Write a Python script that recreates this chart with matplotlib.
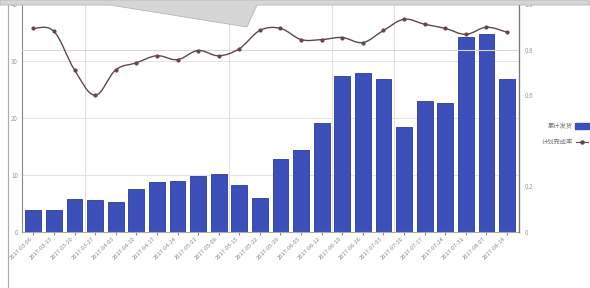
import matplotlib
matplotlib.use('Agg')
import matplotlib.pyplot as plt
from matplotlib.path import Path
from matplotlib.patches import PathPatch, Polygon
import numpy as np

plt.rcParams['font.family'] = ['Noto Sans CJK SC', 'DejaVu Sans']

# data
dates = ['2017-03-06', '2017-03-13', '2017-03-20', '2017-03-27', '2017-04-03', '2017-04-10',
         '2017-04-17', '2017-04-24', '2017-05-01', '2017-05-08', '2017-05-15', '2017-05-22',
         '2017-05-29', '2017-06-05', '2017-06-12', '2017-06-19', '2017-06-26', '2017-07-03',
         '2017-07-10', '2017-07-17', '2017-07-24', '2017-07-31', '2017-08-07', '2017-08-14']
shipped = [3.9, 3.9, 5.8, 5.6, 5.3, 7.5, 8.8, 9.0, 9.8, 10.2, 8.2, 6.0,
           12.8, 14.4, 19.1, 27.4, 27.9, 26.8, 18.4, 23.0, 22.6, 34.2, 34.7, 26.8]
rate = [0.893, 0.880, 0.711, 0.600, 0.711, 0.742, 0.773, 0.756, 0.796, 0.773, 0.804, 0.884,
        0.893, 0.844, 0.844, 0.853, 0.831, 0.884, 0.933, 0.911, 0.893, 0.867, 0.898, 0.876]
left_ticks = [0, 10, 20, 30, 40]
right_ticks = [0, 0.2, 0.4, 0.6, 0.8, 1.0]
right_labels = ['0', '0.2', '', '0.6', '0.8', '1.0']
labels = ['累计发货', '计划完成率']


def smooth_path(xs, ys, t=0.18):
    # cubic bezier through the points (rendering only)
    verts = [(xs[0], ys[0])]
    codes = [Path.MOVETO]
    n = len(xs)
    for i in range(n - 1):
        x0, y0 = xs[max(i - 1, 0)], ys[max(i - 1, 0)]
        x1, y1 = xs[i], ys[i]
        x2, y2 = xs[i + 1], ys[i + 1]
        x3, y3 = xs[min(i + 2, n - 1)], ys[min(i + 2, n - 1)]
        c1 = (x1 + (x2 - x0) * t, y1 + (y2 - y0) * t)
        c2 = (x2 - (x3 - x1) * t, y2 - (y3 - y1) * t)
        verts += [c1, c2, (x2, y2)]
        codes += [Path.CURVE4] * 3
    return Path(verts, codes)


fig = plt.figure(figsize=(5.9, 2.88), dpi=100)
ax = fig.add_axes([22 / 590, 1 - 232 / 288, 497 / 590, 228 / 288])
ax2 = ax.twinx()

x = np.arange(len(dates))
ax.bar(x, shipped, width=0.77, color='#3d4fb8', edgecolor='#2b3a94', linewidth=0.6, zorder=2)
ax.set_xlim(-0.55, len(dates) - 0.42)
ax.set_ylim(0, 40)
ax.set_yticks(left_ticks)
ax.set_xticks(x)
ax.set_xticklabels(dates, rotation=45, ha='right', fontsize=4.2, color='#888888')
ax.tick_params(axis='y', labelsize=4.5, labelcolor='#999999', length=0, pad=3)
ax.tick_params(axis='x', length=2, color='#888888', pad=1)
ax.grid(axis='y', color='#e4e4e4', linewidth=0.7, zorder=0)
for gx in [2.5, 9.5, 14.5, 17.5]:
    ax.axvline(gx, color='#dddddd', linewidth=0.7, zorder=0)
ax.spines['top'].set_visible(False)
ax.spines['left'].set_color('#888888')
ax.spines['bottom'].set_color('#aaaaaa')

ax2.add_patch(PathPatch(smooth_path(x, rate), fill=False, edgecolor='#5c4a4a', linewidth=1.0, zorder=3))
ax2.plot(x, rate, linestyle='none', marker='o', markersize=2, color='#6a4545', zorder=4)
ax2.set_ylim(0, 1.0)
ax2.set_yticks(right_ticks)
ax2.set_yticklabels(right_labels)
ax2.axhline(0.8, color='#d8d8d8', linewidth=0.8, zorder=0)
ax2.tick_params(axis='y', labelsize=4.5, labelcolor='#999999', length=0, pad=4)
ax2.spines['top'].set_visible(False)
ax2.spines['right'].set_color('#777777')
ax2.spines['left'].set_visible(False)
ax2.spines['bottom'].set_visible(False)

# legend, text right aligned with marker to the right
fig.text(573 / 590, 1 - 126 / 288, labels[0], ha='right', va='center', fontsize=4.5, color='#777777')
fig.patches.append(plt.Rectangle((575 / 590, 1 - 129 / 288), 14 / 590, 6 / 288,
                                 transform=fig.transFigure, color='#3d4fb8', figure=fig))
fig.text(573 / 590, 1 - 142 / 288, labels[1], ha='right', va='center', fontsize=4.5, color='#777777')
fig.lines.append(plt.Line2D([576 / 590, 588 / 590], [1 - 142 / 288, 1 - 142 / 288], transform=fig.transFigure,
                            color='#5c4a4a', linewidth=0.8, figure=fig))
fig.lines.append(plt.Line2D([582 / 590], [1 - 142 / 288], transform=fig.transFigure, linestyle='none',
                            color='#5c4a4a', marker='o', markersize=2.2, figure=fig))

# screenshot frame and gray overlay at the top
fig.lines.append(plt.Line2D([8 / 590, 8 / 590], [0, 1], transform=fig.transFigure, color='#aaaaaa',
                            linewidth=0.8, figure=fig))
fig.patches.append(Polygon([(0, 1), (1, 1), (1, 1 - 5 / 288), (257 / 590, 1 - 5 / 288),
                            (247 / 590, 1 - 27 / 288), (110 / 590, 1 - 5 / 288), (0, 1 - 5 / 288)],
                           closed=True, transform=fig.transFigure, facecolor='#d6d6d6',
                           edgecolor='#b5b5b5', linewidth=0.6, figure=fig, zorder=10))

fig.savefig('out.png', dpi=100)
